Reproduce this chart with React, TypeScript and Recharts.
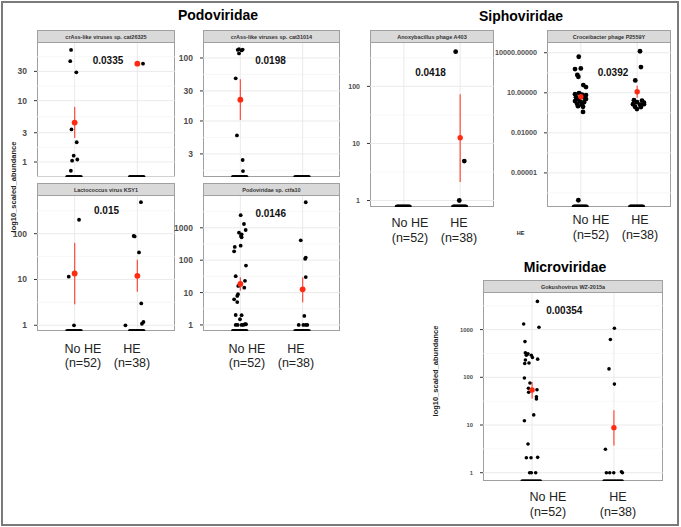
import React from "react";
import { ScatterChart, Scatter, XAxis, YAxis, ReferenceLine, ErrorBar } from "recharts";

type Pt = [number, number]; // [jitter, value]

const FONT = '"Liberation Sans", Arial, sans-serif';

const groupLabels = ["No HE", "HE"];
const groupSizes = ["(n=52)", "(n=38)"];

// jitter of the zero-abundance samples piled on the panel floor
const zeroJitter = [-0.12, -0.1, -0.08, -0.06, -0.04, -0.02, 0, 0.02, 0.04, 0.06, 0.08, 0.1];

// crAss-like viruses sp. cat26325
const cat26325NoHE: Pt[] = [[-0.057, 67], [-0.07, 44], [0.027, 29], [-0.05, 3.4], [0.033, 2.1], [-0.015, 1.27], [0.043, 1.1], [-0.04, 1.05], [-0.06, 0.72]];
const cat26325HE: Pt[] = [[0.09, 40]];
const cat26325Mean = [4.4, 40];
const cat26325Low = [2.46, 40];
const cat26325High = [7.9, 40];

// crAss-like viruses sp. cat31014
const cat31014NoHE: Pt[] = [[-0.043, 135], [-0.022, 138], [0.02, 132], [0.037, 136], [-0.022, 118], [-0.075, 47.6], [-0.055, 5.9], [0.037, 2.4], [0.042, 1.6]];
const cat31014HE: Pt[] = [];
const cat31014Mean = [21.8, null];
const cat31014Low = [10.4, null];
const cat31014High = [46, null];

// Lactococcus virus KSY1
const ksy1NoHE: Pt[] = [[0.07, 201], [-0.094, 11.5], [-0.01, 1]];
const ksy1HE: Pt[] = [[0.057, 487], [-0.059, 89], [-0.043, 87], [0.026, 39], [0.062, 3], [-0.19, 1], [0.073, 1.08], [0.097, 1.18]];
const ksy1Mean = [13.5, 12];
const ksy1Low = [2.87, 5.4];
const ksy1High = [63, 27];

// Podoviridae sp. ctfa10
const ctfa10NoHE: Pt[] = [
  [0.005, 2450], [0.058, 1310], [0.085, 855], [-0.022, 705], [0.02, 630], [0.01, 560], [0.02, 510],
  [-0.09, 256], [-0.1, 188], [0.005, 280], [0.09, 68], [-0.075, 32], [0.074, 23], [-0.034, 16],
  [0.063, 14.2], [-0.038, 8.9], [-0.05, 7.9], [-0.1, 6.2], [-0.05, 5.1], [-0.075, 2.03], [0.02, 2.0],
  [-0.006, 1.5], [-0.075, 1], [-0.043, 1], [0.02, 1], [0.047, 1], [0.074, 1.05], [0.09, 1.05],
];
const ctfa10HE: Pt[] = [[0.05, 6150], [-0.03, 410], [0.05, 120], [0.04, 110], [0.05, 30], [0.027, 1.9], [-0.063, 1], [0.011, 1], [0.05, 1], [0.075, 1]];
const ctfa10Mean = [18.5, 12.6];
const ctfa10Low = [11.4, 5.0];
const ctfa10High = [29.6, 29.6];

// Anoxybacillus phage A403
const a403NoHE: Pt[] = [];
const a403HE: Pt[] = [[-0.08, 405], [0.073, 4.9], [-0.016, 1]];
const a403Mean = [null, 12.6];
const a403Low = [null, 2.12];
const a403High = [null, 73];

// Croceibacter phage P2559Y
const p2559NoHE: Pt[] = [
  [-0.037, 5000], [-0.103, 600], [0, 675], [-0.062, 215], [-0.044, 160], [0.044, 38], [0.092, 27],
  [-0.103, 7.9], [-0.032, 9.5], [0.021, 7.3], [0.092, 6.7], [-0.085, 4.7], [0.057, 4.4], [-0.05, 3.4],
  [0.092, 3.4], [-0.103, 2.4], [-0.014, 2.2], [0.057, 2.0], [-0.067, 1.5], [0.021, 1.3], [-0.05, 1.0],
  [0.039, 0.9], [0.039, 0.37], [-0.044, 9e-8],
];
const p2559HE: Pt[] = [
  [0.05, 13000], [0.067, 840], [-0.034, 85], [-0.057, 2.8], [0.085, 2.6], [-0.004, 2.0], [0.12, 1.8],
  [-0.074, 1.4], [0.05, 1.3], [0.12, 1.4], [-0.039, 0.9], [0.067, 0.85], [-0.004, 0.6],
];
const p2559Mean = [5, 12];
const p2559Low = [1.9, 4.2];
const p2559High = [12, 34];

// Gokushovirus WZ-2015a
const wz2015NoHE: Pt[] = [
  [0.065, 3900], [-0.103, 1310], [0.084, 1120], [-0.087, 560], [-0.082, 325], [-0.05, 310], [-0.07, 290],
  [-0.009, 290], [0.004, 260], [-0.082, 230], [-0.038, 200], [-0.09, 195], [0.068, 240], [-0.094, 97],
  [-0.026, 76], [-0.045, 59], [-0.042, 48.6], [0.06, 55], [0.053, 39], [0.053, 35], [0.02, 16.3],
  [-0.094, 12.3], [-0.05, 4], [-0.07, 2.06], [-0.013, 2.06], [0.068, 2.1], [-0.03, 1], [-0.009, 1], [0.044, 1],
];
const wz2015HE: Pt[] = [[0.006, 1070], [-0.043, 620], [-0.06, 150], [0.006, 72], [-0.104, 3.1], [-0.092, 1], [-0.051, 1], [-0.002, 1], [0.092, 1.05], [0.104, 1]];
const wz2015Mean = [54, 8.8];
const wz2015Low = [36, 3.7];
const wz2015High = [80, 20.5];

interface PanelProps {
  title: string;
  left: number;
  top: number;
  width: number;
  plotH: number;
  axisW: number;
  domain: [number, number];
  ticks: number[];
  fmt?: (v: number) => string;
  tickFont: number;
  noHE: Pt[];
  he: Pt[];
  mean: (number | null)[];
  low: (number | null)[];
  high: (number | null)[];
  r: number;
  rMean: number;
}

function Panel(p: PanelProps) {
  const stripH = 13;
  const plotTop = p.top + stripH;
  const floor = p.domain[0];
  const fmt = p.fmt ?? ((v: number) => String(v));
  const dots = [
    ...zeroJitter.map((j) => ({ x: 1 + j, y: floor })),
    ...zeroJitter.map((j) => ({ x: 2 + j, y: floor })),
    ...p.noHE.map(([j, v]) => ({ x: 1 + j, y: v })),
    ...p.he.map(([j, v]) => ({ x: 2 + j, y: v })),
  ];
  const means: { x: number; y: number; err: number[] }[] = [];
  p.mean.forEach((m, i) => {
    if (m == null) return;
    means.push({ x: i + 1, y: m, err: [m - (p.low[i] as number), (p.high[i] as number) - m] });
  });
  // minor grid lines halfway (in log space) between breaks
  const t = p.ticks;
  const minor: number[] = [];
  minor.push(t[0] / Math.sqrt(t[1] / t[0]));
  for (let i = 0; i < t.length - 1; i++) minor.push(Math.sqrt(t[i] * t[i + 1]));
  minor.push(t[t.length - 1] * Math.sqrt(t[t.length - 1] / t[t.length - 2]));

  return (
    <>
      <div
        style={{
          position: "absolute", left: p.left, top: p.top, width: p.width, height: stripH,
          background: "#d9d9d9", border: "1px solid #a0a0a0", boxSizing: "border-box",
          display: "flex", alignItems: "center", justifyContent: "center",
          fontFamily: FONT, fontWeight: 700, fontSize: 5.5, color: "#333",
        }}
      >
        {p.title}
      </div>
      <div
        style={{
          position: "absolute", left: p.left, top: plotTop, width: p.width, height: p.plotH,
          border: "1px solid #a0a0a0", borderTop: "none", boxSizing: "border-box", background: "#fff",
        }}
      />
      <div style={{ position: "absolute", left: p.left - p.axisW, top: plotTop }}>
        <ScatterChart width={p.axisW + p.width} height={p.plotH} margin={{ top: 0, right: 0, bottom: 0, left: 0 }}>
          <XAxis type="number" dataKey="x" domain={[0.4, 2.6]} allowDataOverflow hide />
          <YAxis
            type="number"
            dataKey="y"
            scale="log"
            domain={p.domain}
            allowDataOverflow
            ticks={p.ticks}
            interval={0}
            width={p.axisW}
            axisLine={false}
            tickSize={3}
            tickLine={{ stroke: "#333" }}
            tick={(tp: any) => (
              <text
                x={tp.x - 5}
                y={tp.y}
                dy="0.35em"
                textAnchor="end"
                fontSize={p.tickFont}
                fontWeight={700}
                fill="#4d4d4d"
                fontFamily={FONT}
              >
                {fmt(tp.payload.value)}
              </text>
            )}
          />
          {minor.map((v) => (
            <ReferenceLine key={"m" + v} y={v} stroke="#f3f3f3" strokeWidth={0.7} />
          ))}
          {p.ticks.map((v) => (
            <ReferenceLine key={"t" + v} y={v} stroke="#e8e8e8" strokeWidth={0.9} />
          ))}
          <ReferenceLine x={1} stroke="#e8e8e8" strokeWidth={0.9} />
          <ReferenceLine x={2} stroke="#e8e8e8" strokeWidth={0.9} />
          <Scatter
            data={dots}
            isAnimationActive={false}
            shape={(s: any) => <circle cx={s.cx} cy={s.cy} r={p.r} fill="#000" />}
          />
          <Scatter
            data={means}
            isAnimationActive={false}
            shape={(s: any) => <circle cx={s.cx} cy={s.cy} r={p.rMean} fill="#ff2a10" />}
          >
            <ErrorBar dataKey="err" direction="y" width={0} stroke="#ff5548" strokeWidth={1.3} />
          </Scatter>
        </ScatterChart>
      </div>
    </>
  );
}

const pValues = [
  { text: "0.0335", x: 108, y: 63.5 },
  { text: "0.0198", x: 270.5, y: 64 },
  { text: "0.015", x: 106.5, y: 214 },
  { text: "0.0146", x: 270.7, y: 216.7 },
  { text: "0.0418", x: 430.5, y: 76 },
  { text: "0.0392", x: 613, y: 76 },
  { text: "0.00354", x: 564.3, y: 314.3 },
];

const groupLabelSets = [
  { x: [83, 132], y: 352.7 },
  { x: [247, 296], y: 352.7 },
  { x: [410, 459], y: 227.3 },
  { x: [591, 640], y: 224 },
  { x: [548, 618], y: 501 },
];

export default function App() {
  return (
    <div style={{ position: "relative", width: 681, height: 527, background: "#fff", fontFamily: FONT, overflow: "hidden" }}>
      <style>{"body{margin:0}"}</style>
      <div
        style={{
          position: "absolute", left: 1, top: 1, width: 678, height: 525,
          border: "2px solid #7a7a7a", boxSizing: "border-box",
        }}
      />
      <Panel title="crAss-like viruses sp. cat26325" left={37} top={30} width={138} plotH={134} axisW={37}
        domain={[0.57, 87]} ticks={[1, 3, 10, 30]} tickFont={8.5}
        noHE={cat26325NoHE} he={cat26325HE} mean={cat26325Mean} low={cat26325Low} high={cat26325High} r={1.9} rMean={2.9} />
      <Panel title="crAss-like viruses sp. cat31014" left={203} top={30} width={137} plotH={134} axisW={30}
        domain={[1.29, 173]} ticks={[3, 10, 30, 100]} tickFont={8.5}
        noHE={cat31014NoHE} he={cat31014HE} mean={cat31014Mean} low={cat31014Low} high={cat31014High} r={1.9} rMean={2.9} />
      <Panel title="Lactococcus virus KSY1" left={37} top={183} width={138} plotH={135} axisW={37}
        domain={[0.75, 664]} ticks={[1, 10, 100]} tickFont={8.5}
        noHE={ksy1NoHE} he={ksy1HE} mean={ksy1Mean} low={ksy1Low} high={ksy1High} r={1.9} rMean={2.9} />
      <Panel title="Podoviridae sp. ctfa10" left={203} top={183} width={137} plotH={135} axisW={30}
        domain={[0.65, 9600]} ticks={[1, 10, 100, 1000]} tickFont={8.5}
        noHE={ctfa10NoHE} he={ctfa10HE} mean={ctfa10Mean} low={ctfa10Low} high={ctfa10High} r={1.9} rMean={2.9} />
      <Panel title="Anoxybacillus phage A403" left={370} top={30} width={124} plotH={164} axisW={30}
        domain={[0.77, 575]} ticks={[1, 10, 100]} tickFont={7}
        noHE={a403NoHE} he={a403HE} mean={a403Mean} low={a403Low} high={a403High} r={2.4} rMean={2.7} />
      <Panel title="Croceibacter phage P2559Y" left={547} top={30} width={124} plotH={164} axisW={52}
        domain={[2.8e-8, 53700]} ticks={[1e-5, 1e-2, 10, 1e4]} tickFont={7.2} fmt={(v: number) => v.toFixed(5)}
        noHE={p2559NoHE} he={p2559HE} mean={p2559Mean} low={p2559Low} high={p2559High} r={2.4} rMean={2.7} />
      <Panel title="Gokushovirus WZ-2015a" left={483} top={280} width={180} plotH={188} axisW={30}
        domain={[0.67, 5850]} ticks={[1, 10, 100, 1000]} tickFont={5.8}
        noHE={wz2015NoHE} he={wz2015HE} mean={wz2015Mean} low={wz2015Low} high={wz2015High} r={1.8} rMean={2.7} />

      <svg width={681} height={527} style={{ position: "absolute", left: 0, top: 0, pointerEvents: "none" }}>
        <g fontFamily={FONT} fontWeight={700} fontSize={14} fill="#000" textAnchor="middle">
          <text x={218} y={20}>Podoviridae</text>
          <text x={521} y={21}>Siphoviridae</text>
          <text x={565} y={271.5}>Microviridae</text>
        </g>
        <g fontFamily={FONT} fontWeight={700} fontSize={10} fill="#111" textAnchor="middle">
          {pValues.map((pv) => (
            <text key={pv.text} x={pv.x} y={pv.y}>{pv.text}</text>
          ))}
        </g>
        <g fontFamily={FONT} fontSize={12.5} fill="#222" textAnchor="middle">
          {groupLabelSets.map((s, k) =>
            s.x.map((x, i) => (
              <g key={k + "-" + i}>
                <text x={x} y={s.y}>{groupLabels[i]}</text>
                <text x={x} y={s.y + 14.6}>{groupSizes[i]}</text>
              </g>
            ))
          )}
        </g>
        <g fontFamily={FONT} fontWeight={700} fontSize={7.5} fill="#222" textAnchor="middle">
          <text transform="translate(15.5,187) rotate(-90)">log10_scaled_abundance</text>
          <text transform="translate(437.5,371) rotate(-90)">log10_scaled_abundance</text>
        </g>
        <text x={520.5} y={235} fontFamily={FONT} fontWeight={700} fontSize={5.5} fill="#222" textAnchor="middle">HE</text>
      </svg>
    </div>
  );
}
